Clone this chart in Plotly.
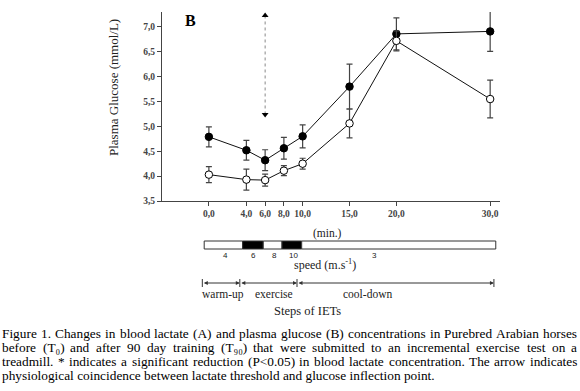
import re
import plotly.graph_objects as go

# ---------------- data ----------------
time_min = [0, 4, 6, 8, 10, 15, 20, 30]
glucose_filled = [4.79, 4.52, 4.32, 4.56, 4.80, 5.80, 6.86, 6.91]
err_filled = [0.20, 0.20, 0.21, 0.22, 0.23, 0.45, 0.32, 0.40]
glucose_open = [4.03, 3.93, 3.92, 4.11, 4.25, 5.06, 6.72, 5.55]
err_open = [0.16, 0.21, 0.12, 0.10, 0.11, 0.29, 0.20, 0.38]

x_tick_vals = [0, 4, 6, 8, 10, 15, 20, 30]
x_tick_text = ["0,0", "4,0", "6,0", "8,0", "10,0", "15,0", "20,0", "30,0"]
y_tick_vals = [3.5, 4.0, 4.5, 5.0, 5.5, 6.0, 6.5, 7.0]
y_tick_text = ["3,5", "4,0", "4,5", "5,0", "5,5", "6,0", "6,5", "7,0"]

arrow_x = 6
arrow_y = [7.23, 5.24]

# speed steps of the test (boundaries in minutes, speed labels)
speed_bounds = [-0.5, 3.6, 5.8, 7.8, 9.9, 30.6]
speed_labels = ["4", "6", "8", "10", "3"]
speed_label_x = [1.8, 4.8, 7.0, 9.0, 17.7]
speed_fill = ["white", "black", "white", "black", "white"]

phase_bounds = [-0.7, 3.3, 9.4, 30.4]
phase_labels = ["warm-up", "exercise", "cool-down"]
phase_label_x = [1.5, 6.9, 16.9]

caption_lines = [
    "Figure 1. Changes in blood lactate (A) and plasma glucose (B) concentrations in Purebred Arabian horses",
    "before (T\u2080) and after 90 day training (T\u2089\u2080) that were submitted to an incremental exercise test on a",
    "treadmill. * indicates a significant reduction (P<0.05) in blood lactate concentration. The arrow indicates",
    "physiological coincidence between lactate threshold and glucose inflection point.",
]

# ---------------- layout geometry ----------------
W, H = 580, 391
PL, PR, PT, PB = 162, 500, 12, 201  # plot area pixels


def px(xp):
    return (xp - PL) / (PR - PL)


def py(yp):
    return (PB - yp) / (PB - PT)


SERIF = "Liberation Serif, Times New Roman, serif"
SANS = "Liberation Sans, Arial, sans-serif"

fig = go.Figure()

fig.add_trace(go.Scatter(
    x=time_min, y=glucose_filled, mode="lines+markers", name="filled",
    line=dict(color="#111", width=1),
    marker=dict(size=7.5, color="black", line=dict(color="black", width=1)),
    error_y=dict(type="data", array=err_filled, color="#444", thickness=1.2, width=3),
))
fig.add_trace(go.Scatter(
    x=time_min, y=glucose_open, mode="lines+markers", name="open",
    line=dict(color="#111", width=1),
    marker=dict(size=7.5, color="white", line=dict(color="black", width=1)),
    error_y=dict(type="data", array=err_open, color="#444", thickness=1.2, width=3),
))

# double arrow (inflection point)
fig.add_trace(go.Scatter(
    x=[arrow_x, arrow_x], y=arrow_y, mode="lines",
    line=dict(color="#888", width=1, dash="dot"), hoverinfo="skip",
))
fig.add_trace(go.Scatter(
    x=[arrow_x, arrow_x], y=arrow_y, mode="markers",
    marker=dict(symbol=["triangle-up", "triangle-down"], size=6, color="black"),
    hoverinfo="skip",
))

shapes = []
annotations = []

# speed bar
bar_top, bar_bot = py(241), py(249)
for i in range(len(speed_labels)):
    shapes.append(dict(type="rect", xref="x", yref="paper",
                       x0=speed_bounds[i], x1=speed_bounds[i + 1], y0=bar_bot, y1=bar_top,
                       fillcolor=speed_fill[i], line=dict(color="#333", width=1)))
    annotations.append(dict(xref="x", yref="paper", x=speed_label_x[i], y=py(255.5),
                            text=speed_labels[i], showarrow=False,
                            font=dict(family=SANS, size=8, color="#222"),
                            xanchor="center", yanchor="middle"))

# phase arrows
line_y = py(283)
for i in range(len(phase_labels)):
    annotations.append(dict(xref="x", yref="paper", axref="x", ayref="pixel",
                            x=phase_bounds[i + 1], y=line_y, ax=phase_bounds[i], ay=0,
                            text="", showarrow=True, arrowhead=2, arrowside="end+start",
                            arrowsize=0.8, arrowwidth=1, arrowcolor="#333",
                            standoff=0, startstandoff=0))
    annotations.append(dict(xref="x", yref="paper", x=phase_label_x[i], y=py(294),
                            text=phase_labels[i], showarrow=False,
                            font=dict(family=SERIF, size=11.5, color="#222"),
                            xanchor="center", yanchor="middle"))
for b in phase_bounds:
    shapes.append(dict(type="line", xref="x", yref="paper", x0=b, x1=b,
                       y0=py(279), y1=py(287), line=dict(color="#333", width=1)))

# text labels
annotations += [
    dict(xref="paper", yref="paper", x=px(190), y=py(20), text="<b>B</b>", showarrow=False,
         font=dict(family=SERIF, size=16, color="black"), xanchor="center", yanchor="middle"),
    dict(xref="paper", yref="paper", x=px(113), y=py(88), text="Plasma Glucose (mmol/L)",
         showarrow=False, textangle=-90,
         font=dict(family=SERIF, size=13, color="#222"), xanchor="center", yanchor="middle"),
    dict(xref="paper", yref="paper", x=px(327), y=py(233), text="(min.)", showarrow=False,
         font=dict(family=SERIF, size=11.5, color="#222"), xanchor="center", yanchor="middle"),
    dict(xref="paper", yref="paper", x=px(325), y=py(264), text="speed (m.s<sup>-1</sup>)",
         showarrow=False, font=dict(family=SERIF, size=12, color="#222"),
         xanchor="center", yanchor="middle"),
    dict(xref="paper", yref="paper", x=px(307), y=py(311), text="Steps of IETs", showarrow=False,
         font=dict(family=SERIF, size=12.5, color="#222"), xanchor="center", yanchor="middle"),
]

# ---------------- caption (justified) ----------------
TW = {' ': 250, 'a': 444, 'b': 500, 'c': 444, 'd': 500, 'e': 444, 'f': 333, 'g': 500, 'h': 500,
      'i': 278, 'j': 278, 'k': 500, 'l': 278, 'm': 778, 'n': 500, 'o': 500, 'p': 500, 'q': 500,
      'r': 333, 's': 389, 't': 278, 'u': 500, 'v': 500, 'w': 722, 'x': 500, 'y': 500, 'z': 444,
      'A': 722, 'B': 667, 'C': 667, 'D': 722, 'E': 611, 'F': 556, 'G': 722, 'H': 722, 'I': 333,
      'J': 389, 'K': 722, 'L': 611, 'M': 889, 'N': 722, 'O': 722, 'P': 556, 'Q': 722, 'R': 667,
      'S': 556, 'T': 611, 'U': 722, 'V': 722, 'W': 944, 'X': 722, 'Y': 722, 'Z': 611,
      '.': 250, ',': 250, '(': 333, ')': 333, '-': 333, '<': 564, '*': 500, '/': 278,
      '\u2080': 330, '\u2089': 330}


def units(s):
    return float(sum(TW.get(c, 500) for c in s))


cap_left, cap_right = 2, 578
fs = (435 - cap_left) / units(caption_lines[3]) * 1000
cap_y = [333, 347.5, 361.5, 375.5]
for li, line in enumerate(caption_lines):
    if li < 3:
        words = line.split(" ")
        ww = [units(w) * fs / 1000 + 0.6 for w in words]
        gap = (cap_right - cap_left - sum(ww)) / (len(words) - 1)
        x = cap_left
        for w, wd in zip(words, ww):
            annotations.append(dict(xref="paper", yref="paper", x=px(x), y=py(cap_y[li]),
                                    text=w, showarrow=False,
                                    borderpad=0, borderwidth=0,
                                    font=dict(family=SERIF, size=fs, color="black"),
                                    xanchor="left", yanchor="middle"))
            x += wd + gap
    else:
        annotations.append(dict(xref="paper", yref="paper", x=px(cap_left), y=py(cap_y[li]),
                                text=line, showarrow=False, borderpad=0, borderwidth=0,
                                font=dict(family=SERIF, size=fs, color="black"),
                                xanchor="left", yanchor="middle"))

fig.update_layout(
    width=W, height=H, showlegend=False,
    margin=dict(l=PL, r=W - PR, t=PT, b=H - PB, pad=0),
    paper_bgcolor="white", plot_bgcolor="white",
    xaxis=dict(range=[-5, 31.05], tickvals=x_tick_vals, ticktext=x_tick_text,
               showgrid=False, zeroline=False, showline=True, linecolor="#444", linewidth=1,
               ticks="outside", ticklen=4, tickcolor="#444",
               tickfont=dict(family=SERIF, size=9.5, color="#444", weight="bold")),
    yaxis=dict(range=[3.5, 7.3], tickvals=y_tick_vals, ticktext=y_tick_text,
               showgrid=False, zeroline=False, showline=True, linecolor="#444", linewidth=1,
               ticks="outside", ticklen=4, tickcolor="#444",
               tickfont=dict(family=SERIF, size=9.5, color="#444", weight="bold")),
    shapes=shapes, annotations=annotations,
)

fig.write_html("out.html", config={"displayModeBar": False},
               post_script="document.body.style.margin='0';document.body.style.padding='0';")
